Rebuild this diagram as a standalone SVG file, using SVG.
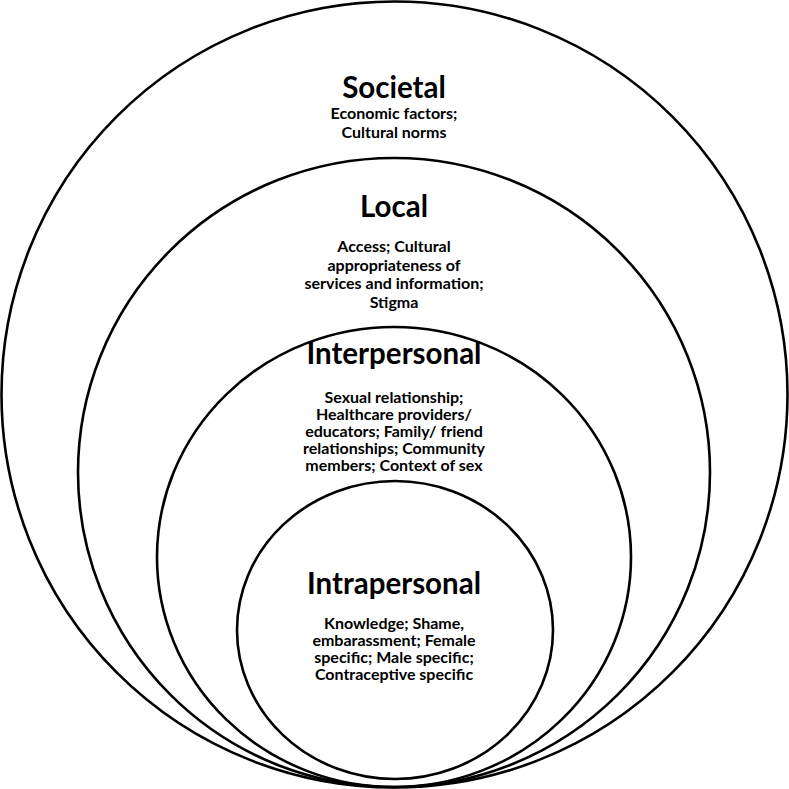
<svg xmlns="http://www.w3.org/2000/svg" width="789" height="789" viewBox="0 0 789 789">
<style>
.ring{fill:none;stroke:#000;stroke-width:2.6}
.t{font-family:Lato,"Open Sans","Liberation Sans",sans-serif;font-weight:700;text-anchor:middle;fill:#000}
.title{font-size:29.5px}
.body{font-size:16px}
</style>
<rect width="789" height="789" fill="#fff"/>
<g id="societal">
<circle class="ring" cx="394.5" cy="394.5" r="393"/>
<text class="t title" x="394" y="98">Societal</text>
<text class="t body" x="394" y="119">Economic factors;</text>
<text class="t body" x="394" y="137.5">Cultural norms</text>
</g>
<g id="local">
<ellipse class="ring" cx="394" cy="472.5" rx="316" ry="314.5"/>
<text class="t title" x="394" y="217">Local</text>
<text class="t body" x="394" y="252">Access; Cultural</text>
<text class="t body" x="394" y="270.5">appropriateness of</text>
<text class="t body" x="394" y="289">services and information;</text>
<text class="t body" x="394" y="307.5">Stigma</text>
</g>
<g id="interpersonal">
<ellipse class="ring" cx="394" cy="557" rx="237" ry="230"/>
<text class="t title" x="394" y="364">Interpersonal</text>
<text class="t body" x="394" y="403">Sexual relationship;</text>
<text class="t body" x="394" y="420">Healthcare providers/</text>
<text class="t body" x="394" y="437">educators; Family/ friend</text>
<text class="t body" x="394" y="454">relationships; Community</text>
<text class="t body" x="394" y="471">members; Context of sex</text>
</g>
<g id="intrapersonal">
<ellipse class="ring" cx="395" cy="630" rx="158" ry="149"/>
<text class="t title" x="394" y="594">Intrapersonal</text>
<text class="t body" x="394" y="629">Knowledge; Shame,</text>
<text class="t body" x="394" y="646">embarassment; Female</text>
<text class="t body" x="394" y="663">specific; Male specific;</text>
<text class="t body" x="394" y="680">Contraceptive specific</text>
</g>
<g id="connectors"></g>
</svg>
